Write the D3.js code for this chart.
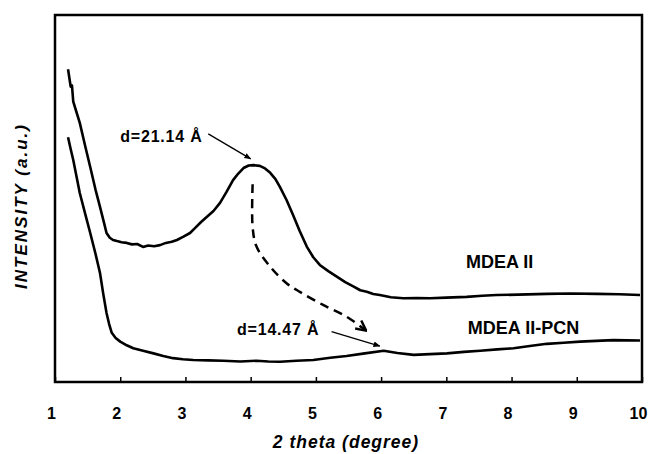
<!DOCTYPE html>
<html>
<head>
<meta charset="utf-8">
<script src="https://cdn.jsdelivr.net/npm/d3@7"></script>
<style>
  body { margin: 0; background: #fff; }
  text { font-family: Arial, "Liberation Sans", sans-serif; font-weight: bold; fill: #000; }
  .xaxis text { font-size: 16px; }
</style>
</head>
<body>
<div id="chart"></div>
<script>
// 2 theta values and intensities (arbitrary units, 0..100 over the plot height)
const mdeaTheta = [1.20, 1.24, 1.26, 1.28, 1.33, 1.38, 1.46, 1.54, 1.62, 1.69, 1.75, 1.79, 1.84, 1.89, 1.95,
  2.02, 2.10, 2.18, 2.26, 2.35, 2.43, 2.52, 2.61, 2.70, 2.79, 2.87, 2.97, 3.07, 3.15, 3.24, 3.33, 3.43,
  3.53, 3.63, 3.73, 3.81, 3.89, 3.97, 4.04, 4.14, 4.22, 4.30, 4.38, 4.45, 4.55, 4.65, 4.75, 4.86, 4.96,
  5.06, 5.19, 5.32, 5.45, 5.58, 5.68, 5.78, 5.88, 5.98, 6.15, 6.34, 6.55, 6.75, 7.00, 7.31, 7.55, 7.77,
  8.10, 8.54, 8.90, 9.31, 9.65, 9.97];
const mdeaInt = [85.2, 80.5, 80.8, 76.4, 73.5, 70.6, 64.5, 58.6, 52.5, 47.7, 43.5, 40.6, 39.3, 38.7, 38.4,
  38.1, 37.9, 37.5, 37.6, 36.8, 37.2, 37.0, 37.3, 37.9, 38.2, 38.7, 39.6, 40.6, 42.0, 43.6, 45.0, 46.6,
  48.8, 51.8, 55.0, 56.8, 58.3, 59.0, 59.1, 58.9, 58.2, 57.0, 55.3, 53.1, 49.6, 45.5, 41.2, 36.9, 34.0,
  31.9, 30.2, 28.7, 27.2, 26.0, 25.0, 24.6, 24.0, 23.7, 23.1, 22.8, 22.9, 22.8, 23.0, 23.2, 23.5, 23.7,
  23.8, 24.0, 24.1, 24.0, 23.9, 23.7];

const pcnTheta = [1.20, 1.24, 1.28, 1.33, 1.38, 1.46, 1.54, 1.62, 1.69, 1.74, 1.79, 1.83, 1.87, 1.93, 2.00,
  2.10, 2.20, 2.35, 2.51, 2.66, 2.81, 2.96, 3.12, 3.35, 3.58, 3.84, 4.09, 4.27, 4.45, 4.70, 4.96, 5.22,
  5.47, 5.75, 6.04, 6.25, 6.50, 6.75, 7.01, 7.27, 7.52, 7.78, 8.03, 8.28, 8.54, 8.80, 9.05, 9.30, 9.56, 9.97];
const pcnInt = [66.7, 63.5, 60.5, 56.0, 51.5, 46.0, 40.6, 35.0, 29.7, 24.0, 18.8, 15.8, 13.4, 12.0, 11.0,
  10.0, 9.2, 8.5, 7.8, 7.1, 6.5, 6.2, 6.0, 5.9, 5.8, 5.6, 5.8, 5.6, 5.5, 5.8, 6.0, 6.6,
  7.1, 7.8, 8.5, 7.9, 7.4, 7.6, 7.8, 8.2, 8.5, 8.9, 9.2, 9.8, 10.4, 10.7, 11.0, 11.2, 11.4, 11.3];

const xTicks = [1, 2, 3, 4, 5, 6, 7, 8, 9, 10];

// annotation positions in data units
const peakArrow = [[3.35, 67.6], [4.00, 60.8]];
const shiftArrow = [[5.24, 13.7], [5.98, 9.8]];
const shiftPath = [[4.03, 53.9], [4.03, 42.2], [4.09, 36.9], [4.30, 31.4], [4.55, 26.9], [4.76, 24.5],
  [5.11, 21.0], [5.47, 17.8], [5.77, 14.0]];

const width = 652, height = 454;
const svg = d3.select("#chart").append("svg")
  .attr("width", width)
  .attr("height", height);

const x = d3.scaleLinear().domain([1, 10]).range([55, 642]);
const y = d3.scaleLinear().domain([0, 100]).range([382, 15]);

const defs = svg.append("defs");
defs.append("marker")
  .attr("id", "headFill")
  .attr("viewBox", "0 0 10 10")
  .attr("refX", 9).attr("refY", 5)
  .attr("markerWidth", 7).attr("markerHeight", 7)
  .attr("markerUnits", "userSpaceOnUse")
  .attr("orient", "auto")
  .append("path")
  .attr("d", "M0,1 L10,5 L0,9 Z")
  .attr("fill", "#000");
defs.append("marker")
  .attr("id", "headOpen")
  .attr("viewBox", "0 0 12 12")
  .attr("refX", 11).attr("refY", 6)
  .attr("markerWidth", 12).attr("markerHeight", 12)
  .attr("markerUnits", "userSpaceOnUse")
  .attr("orient", "auto")
  .append("path")
  .attr("d", "M1,1 L11,6 L1,11")
  .attr("fill", "none")
  .attr("stroke", "#000")
  .attr("stroke-width", 2.5);

// plot frame
svg.append("rect")
  .attr("x", x(1)).attr("y", y(100))
  .attr("width", x(10) - x(1)).attr("height", y(0) - y(100))
  .attr("fill", "none")
  .attr("stroke", "#000")
  .attr("stroke-width", 2.5);

// x axis, ticks pointing inward
const xAxis = svg.append("g")
  .attr("class", "xaxis")
  .attr("transform", `translate(0,${y(0)})`)
  .call(d3.axisBottom(x).tickValues(xTicks).tickSize(-5).tickSizeOuter(0).tickPadding(26).tickFormat(d3.format("d")));
xAxis.select(".domain").remove();
xAxis.selectAll(".tick line").attr("stroke", "#000").attr("stroke-width", 1.5);
xAxis.selectAll(".tick text")
  .attr("x", -4)
  .attr("fill", "#000");

// curves
const line = d3.line().x(d => x(d[0])).y(d => y(d[1]));
svg.append("path")
  .datum(d3.zip(mdeaTheta, mdeaInt))
  .attr("d", line)
  .attr("fill", "none").attr("stroke", "#000").attr("stroke-width", 2.6)
  .attr("stroke-linejoin", "round");
svg.append("path")
  .datum(d3.zip(pcnTheta, pcnInt))
  .attr("d", line)
  .attr("fill", "none").attr("stroke", "#000").attr("stroke-width", 2.6)
  .attr("stroke-linejoin", "round");

// annotations
svg.append("path")
  .datum(peakArrow)
  .attr("d", line)
  .attr("stroke", "#000").attr("stroke-width", 1.3).attr("fill", "none")
  .attr("marker-end", "url(#headFill)");
svg.append("path")
  .datum(shiftArrow)
  .attr("d", line)
  .attr("stroke", "#000").attr("stroke-width", 1.3).attr("fill", "none")
  .attr("marker-end", "url(#headFill)");
svg.append("path")
  .datum(shiftPath)
  .attr("d", d3.line().x(d => x(d[0])).y(d => y(d[1])).curve(d3.curveCatmullRom))
  .attr("stroke", "#000").attr("stroke-width", 2.5).attr("fill", "none")
  .attr("stroke-dasharray", "9,6")
  .attr("marker-end", "url(#headOpen)");

svg.append("text")
  .attr("x", x(2.0)).attr("y", y(65.4))
  .style("font-size", "16px").style("letter-spacing", "0.8px")
  .text("d=21.14 Å");
svg.append("text")
  .attr("x", x(3.79)).attr("y", y(12.7))
  .style("font-size", "16px").style("letter-spacing", "0.8px")
  .text("d=14.47 Å");
svg.append("text")
  .attr("x", x(7.30)).attr("y", y(31.1))
  .style("font-size", "18px")
  .text("MDEA II");
svg.append("text")
  .attr("x", x(7.33)).attr("y", y(13.1))
  .style("font-size", "18px")
  .text("MDEA II-PCN");

// axis titles
svg.append("text")
  .attr("x", 346).attr("y", 448)
  .attr("text-anchor", "middle")
  .style("font-size", "17.5px").style("font-style", "italic").style("letter-spacing", "1px")
  .text("2 theta (degree)");
svg.append("text")
  .attr("transform", "translate(27,206) rotate(-90)")
  .attr("text-anchor", "middle")
  .style("font-size", "17px").style("font-style", "italic").style("letter-spacing", "2px")
  .text("INTENSITY (a.u.)");
</script>
</body>
</html>
